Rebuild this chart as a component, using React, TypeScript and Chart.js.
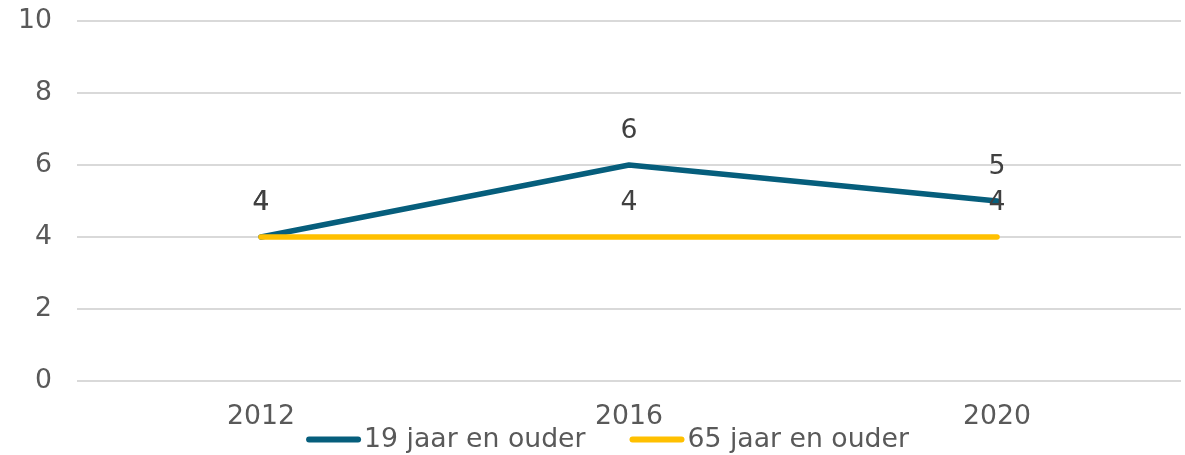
import React, { useEffect, useRef } from "react";
import { Chart, registerables } from "chart.js";

Chart.register(...registerables);

const categories = ["2012", "2016", "2020"];
const series19 = [4, 6, 5];
const series65 = [4, 4, 4];
const seriesNames = ["19 jaar en ouder", "65 jaar en ouder"];
const seriesColors = ["#065E7C", "#FFC000"];
const yTicks = [0, 2, 4, 6, 8, 10];

const FONT_FAMILY = "'DejaVu Sans', Verdana, sans-serif";
const FONT_SIZE = 26.7;

const labelPlugin = {
  id: "valueLabels",
  afterDatasetsDraw(chart: any) {
    const ctx = chart.ctx;
    ctx.save();
    ctx.font = `${FONT_SIZE}px ${FONT_FAMILY}`;
    ctx.fillStyle = "#404040";
    ctx.textAlign = "center";
    ctx.textBaseline = "middle";
    chart.data.datasets.forEach((ds: any, i: number) => {
      const meta = chart.getDatasetMeta(i);
      meta.data.forEach((pt: any, j: number) => {
        ctx.fillText(String(ds.data[j]), pt.x, pt.y - 34);
      });
    });
    ctx.restore();
  },
  afterDraw(chart: any) {
    const ctx = chart.ctx;
    ctx.save();
    ctx.font = `${FONT_SIZE}px ${FONT_FAMILY}`;
    const lineLen = 55;
    const gap1 = 3;
    const gap2 = 44;
    const widths = seriesNames.map((n) => ctx.measureText(n).width);
    const total =
      widths.reduce((a, b) => a + b, 0) + 2 * (lineLen + gap1) + gap2;
    let x = chart.width / 2 + 15 - total / 2;
    const y = 439.5;
    seriesNames.forEach((name, i) => {
      ctx.strokeStyle = seriesColors[i];
      ctx.lineWidth = 6;
      ctx.lineCap = "round";
      ctx.beginPath();
      ctx.moveTo(x + 3, y);
      ctx.lineTo(x + lineLen - 3, y);
      ctx.stroke();
      x += lineLen + gap1;
      ctx.fillStyle = "#595959";
      ctx.textAlign = "left";
      ctx.textBaseline = "middle";
      ctx.fillText(name, x, y + 1);
      x += widths[i] + gap2;
    });
    ctx.restore();
  },
};

export default function App() {
  const ref = useRef<HTMLCanvasElement | null>(null);
  useEffect(() => {
    document.body.style.margin = "0";
    if (!ref.current) return;
    const chart = new Chart(ref.current, {
      type: "line",
      data: {
        labels: categories,
        datasets: [
          {
            label: seriesNames[0],
            data: series19,
            borderColor: seriesColors[0],
            backgroundColor: seriesColors[0],
            borderWidth: 5.5,
            borderCapStyle: "round",
            borderJoinStyle: "round",
            pointRadius: 0,
            tension: 0,
            order: 1,
          },
          {
            label: seriesNames[1],
            data: series65,
            borderColor: seriesColors[1],
            backgroundColor: seriesColors[1],
            borderWidth: 5.5,
            borderCapStyle: "round",
            borderJoinStyle: "round",
            pointRadius: 0,
            tension: 0,
            order: 0,
          },
        ],
      },
      options: {
        responsive: false,
        animation: false,
        layout: { autoPadding: false, padding: { top: 21, right: 4, left: 0, bottom: 0 } },
        plugins: {
          legend: { display: false },
          tooltip: { enabled: false },
        },
        scales: {
          x: {
            offset: true,
            grid: { display: false, drawTicks: false },
            border: { display: false },
            ticks: {
              color: "#595959",
              font: { family: FONT_FAMILY, size: FONT_SIZE },
              padding: 20,
              maxRotation: 0,
            },
            afterFit: (s: any) => {
              s.height = 74;
              s.paddingLeft = 0;
              s.paddingRight = 0;
            },
          },
          y: {
            min: 0,
            max: 10,
            afterBuildTicks: (s: any) => {
              s.ticks = yTicks.map((v) => ({ value: v }));
            },
            grid: { color: "#D9D9D9", lineWidth: 2, drawTicks: false },
            border: { display: false },
            ticks: {
              color: "#595959",
              font: { family: FONT_FAMILY, size: FONT_SIZE },
              padding: 25,
            },
            afterFit: (s: any) => {
              s.width = 77;
              s.paddingTop = 0;
              s.paddingBottom = 0;
            },
          },
        },
      },
      plugins: [labelPlugin],
    });
    return () => chart.destroy();
  }, []);
  return <canvas ref={ref} width={1185} height={455} />;
}
